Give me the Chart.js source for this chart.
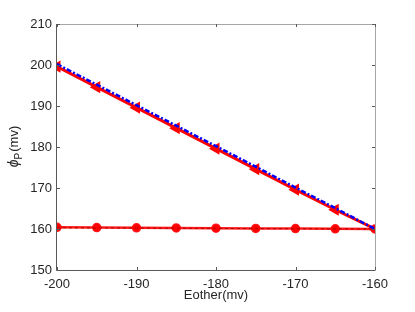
<!DOCTYPE html>
<html>
<head>
<meta charset="utf-8">
<script src="https://cdn.jsdelivr.net/npm/chart.js@4.4.1/dist/chart.umd.min.js"></script>
<style>
  html, body { margin: 0; padding: 0; background: #fff; }
  #wrap { width: 415px; height: 312px; }
</style>
</head>
<body>
<div id="wrap"><canvas id="chart" width="415" height="312"></canvas></div>
<script>
// x values (Eother, mv)
const eother = [-200, -195, -190, -185, -180, -175, -170, -165, -160];
// red line with left triangles
const phiRed = [199.6, 194.6, 189.6, 184.6, 179.6, 174.6, 169.6, 164.7, 160.0];
// blue dash-dot line
const phiBlue = [200.2, 195.2, 190.2, 185.2, 180.2, 175.2, 170.1, 165.1, 160.0];
// flat red line with circles
const phiFlat = [160.4, 160.35, 160.3, 160.25, 160.2, 160.15, 160.1, 160.05, 160.0];
// thin dashed line under the flat one
const phiFlatDash = [160.3, 160.26, 160.22, 160.18, 160.14, 160.1, 160.06, 160.03, 160.0];

const xTicks = [-200, -190, -180, -170, -160];
const yTicks = [150, 160, 170, 180, 190, 200, 210];

const pts = (ys) => eother.map((x, i) => ({ x: x, y: ys[i] }));

const axisColor = "#262626";
const boxColor = "#a6a6a6";
const font = "'Liberation Sans', Arial, sans-serif";

const framePlugin = {
  id: "frame",
  afterDraw(chart) {
    const ctx = chart.ctx;
    const a = chart.chartArea;
    const xs = chart.scales.x;
    const ys = chart.scales.y;
    ctx.save();
    ctx.lineWidth = 1;
    // top & right (light)
    ctx.strokeStyle = boxColor;
    ctx.beginPath();
    ctx.moveTo(a.left, a.top + 0.5);
    ctx.lineTo(a.right + 0.5, a.top + 0.5);
    ctx.lineTo(a.right + 0.5, a.bottom);
    ctx.stroke();
    // left & bottom
    ctx.strokeStyle = "#595959";
    ctx.beginPath();
    ctx.moveTo(a.left - 0.5, a.top);
    ctx.lineTo(a.left - 0.5, a.bottom + 0.5);
    ctx.lineTo(a.right + 0.5, a.bottom + 0.5);
    ctx.stroke();
    // inward ticks
    ctx.beginPath();
    xTicks.forEach(v => {
      const px = Math.round(xs.getPixelForValue(v)) + 0.5;
      ctx.moveTo(px, a.bottom);
      ctx.lineTo(px, a.bottom - 3);
      ctx.moveTo(px, a.top);
      ctx.lineTo(px, a.top + 3);
    });
    yTicks.forEach(v => {
      const py = Math.round(ys.getPixelForValue(v)) + 0.5;
      ctx.moveTo(a.left, py);
      ctx.lineTo(a.left + 3, py);
      ctx.moveTo(a.right, py);
      ctx.lineTo(a.right - 3, py);
    });
    ctx.stroke();
    // y title with subscript
    ctx.fillStyle = axisColor;
    ctx.translate(18, (a.top + a.bottom) / 2);
    ctx.rotate(-Math.PI / 2);
    ctx.textBaseline = "alphabetic";
    const phi = "\u03D5";
    const sub = "P";
    const rest = "(mv)";
    ctx.font = "italic 14px " + font;
    const w1 = ctx.measureText(phi).width;
    ctx.font = "10px " + font;
    const w2 = ctx.measureText(sub).width;
    ctx.font = "13px " + font;
    const w3 = ctx.measureText(rest).width;
    let x0 = -(w1 + w2 + w3) / 2;
    ctx.font = "italic 14px " + font;
    ctx.fillText(phi, x0, 0);
    x0 += w1;
    ctx.font = "10px " + font;
    ctx.fillText(sub, x0, 4);
    x0 += w2 + 1;
    ctx.font = "13px " + font;
    ctx.fillText(rest, x0, 0);
    ctx.restore();
  }
};

new Chart(document.querySelector("#chart"), {
  type: "scatter",
  data: {
    datasets: [
      {
        data: pts(phiFlatDash),
        showLine: true,
        borderColor: "#b00000",
        borderWidth: 1,
        borderDash: [3, 3],
        pointRadius: 0,
        order: 1,
      },
      {
        data: pts(phiFlat),
        showLine: true,
        borderColor: "rgba(255,0,0,0.9)",
        backgroundColor: "#ff0000",
        borderWidth: 2.5,
        pointStyle: "circle",
        pointRadius: 3.5,
        order: 2,
      },
      {
        data: pts(phiRed),
        showLine: true,
        borderColor: "#ff0000",
        backgroundColor: "#ff0000",
        borderWidth: 3,
        pointStyle: "triangle",
        pointRotation: -90,
        pointRadius: 4,
        order: 3,
      },
      {
        data: pts(phiBlue),
        showLine: true,
        borderColor: "#0000ff",
        borderWidth: 2.5,
        borderDash: [5, 2, 2, 2],
        pointRadius: 0,
        order: 0,
      },
    ],
  },
  options: {
    responsive: false,
    animation: false,
    layout: { padding: { top: 24, right: 40, left: 0, bottom: 9 } },
    plugins: {
      legend: { display: false },
      tooltip: { enabled: false },
    },
    scales: {
      x: {
        type: "linear",
        min: -200,
        max: -160,
        afterBuildTicks: (s) => { s.ticks = xTicks.map(v => ({ value: v })); },
        afterFit: (s) => { s.height = 33; },
        grid: { display: false, drawTicks: false },
        border: { display: false },
        ticks: {
          color: axisColor,
          padding: 7,
          maxRotation: 0,
          font: { family: font, size: 13 },
        },
        title: {
          display: true,
          text: "Eother(mv)",
          color: axisColor,
          padding: { top: 0, bottom: 0 },
          font: { family: font, size: 13 },
        },
      },
      y: {
        min: 150,
        max: 210,
        afterBuildTicks: (s) => { s.ticks = yTicks.map(v => ({ value: v })); },
        afterFit: (s) => { s.width = 57; },
        grid: { display: false, drawTicks: false },
        border: { display: false },
        ticks: {
          color: axisColor,
          padding: 5,
          font: { family: font, size: 13 },
        },
      },
    },
  },
  plugins: [framePlugin],
});
</script>
</body>
</html>
